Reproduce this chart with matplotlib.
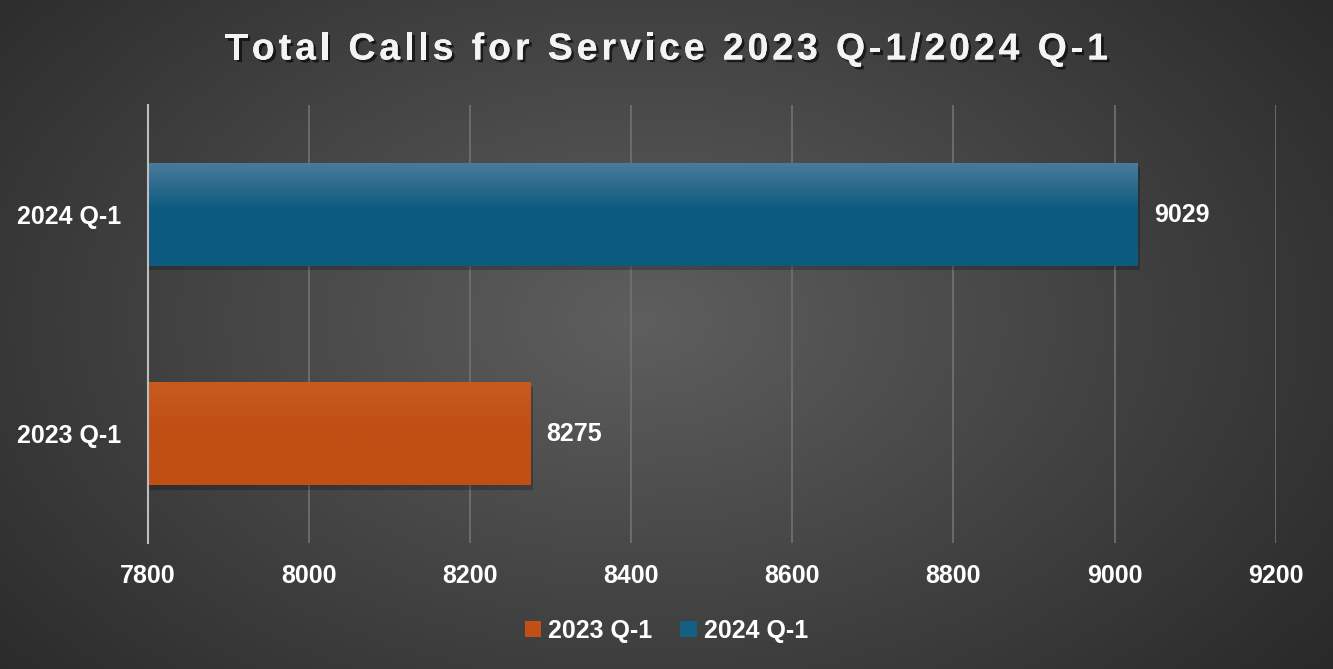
import numpy as np
import matplotlib
matplotlib.use("Agg")
import matplotlib.pyplot as plt
import matplotlib.patheffects as pe
from matplotlib.patches import Rectangle

categories = ["2023 Q-1", "2024 Q-1"]
values = [8275, 9029]
xticks = [7800, 8000, 8200, 8400, 8600, 8800, 9000, 9200]
title = "Total Calls for Service 2023 Q-1/2024 Q-1"
bar_top = ["#c85a20", "#4a7a9a"]
bar_bot = ["#c04f14", "#0c5a80"]
bar_solid = ["#c24f15", "#145f84"]

plt.rcParams['font.family'] = ['Liberation Sans', 'DejaVu Sans']
FS = 18

fig = plt.figure(figsize=(13.33, 6.69), dpi=100)

# background radial gradient
bg = fig.add_axes([0, 0, 1, 1], zorder=-10)
yy, xx = np.mgrid[0:669, 0:1333]
cx, cy = 640, 320
r = np.sqrt(((xx - cx) / 1333.0) ** 2 + ((yy - cy) / 669.0) ** 2 * 0.6)
r = r / r.max()
v = 0.37 - 0.21 * r
img = np.dstack([v, v, v])
bg.imshow(img, aspect='auto', extent=[0, 1, 0, 1], origin='upper')
bg.set_axis_off()

ax = fig.add_axes([0.111, 0.188, 0.846, 0.655])
ax.patch.set_alpha(0)

bar_h = 0.47
for i, (c, val) in enumerate(zip(categories, values)):
    sh = Rectangle((7800, i - bar_h / 2 - 0.02), val - 7800 + 3, bar_h,
                   facecolor='black', alpha=0.22, edgecolor='none', zorder=2)
    ax.add_patch(sh)
    bars = ax.barh([i], [val - 7800], left=7800, height=bar_h,
                   color=bar_solid[i], zorder=3)
    b = bars[0]
    grad = np.linspace(0, 1, 100)
    t = np.array(matplotlib.colors.to_rgb(bar_top[i]))
    bt = np.array(matplotlib.colors.to_rgb(bar_bot[i]))
    frac = np.clip(grad / 0.45, 0, 1)[:, None]
    cols = t * (1 - frac) + bt * frac
    gimg = cols[:, None, :]
    im = ax.imshow(gimg, aspect='auto', origin='upper',
                   extent=[7800, val, i - bar_h / 2, i + bar_h / 2],
                   zorder=4, interpolation='bilinear')
    im.set_clip_path(b)
    ax.text(val + 20, i, str(val), color='white', fontsize=FS, fontweight='bold',
            va='center', ha='left', zorder=5)

ax.set_xlim(7800, 9200)
ax.set_ylim(-0.5, 1.5)
ax.set_xticks(xticks)
ax.set_xticklabels([str(x) for x in xticks])
ax.set_yticks(range(len(categories)))
ax.set_yticklabels(categories)
ax.tick_params(axis='x', colors='white', labelsize=FS, length=0, pad=15)
ax.tick_params(axis='y', colors='white', labelsize=FS, length=0, pad=19)
for lab in ax.get_xticklabels() + ax.get_yticklabels():
    lab.set_fontweight('bold')
ax.grid(axis='x', color='#727272', linewidth=1.2, zorder=1)
ax.set_axisbelow(True)
for s in ['top', 'right', 'bottom']:
    ax.spines[s].set_visible(False)
ax.spines['left'].set_color('#bdbdbd')
ax.spines['left'].set_linewidth(1.5)
ax.spines['left'].set_zorder(6)

# title with letter spacing
renderer = fig.canvas.get_renderer()
tfs = 27
spacing = 3.9  # px
widths = []
for ch in title:
    tt = fig.text(0, 0, ch if ch != ' ' else 'a a', fontsize=tfs, fontweight='bold')
    w = tt.get_window_extent(renderer).width
    if ch == ' ':
        t2 = fig.text(0, 0, 'aa', fontsize=tfs, fontweight='bold')
        w = w - t2.get_window_extent(renderer).width
        t2.remove()
    tt.remove()
    widths.append(w)
total = sum(widths) + spacing * (len(title) - 1)
W = fig.get_figwidth() * fig.dpi
x = W / 2 - total / 2
for ch, w in zip(title, widths):
    if ch != ' ':
        fig.text(x / W, 0.926, ch, ha='left', va='center', color='#f4f4f4',
                 fontsize=tfs, fontweight='bold',
                 path_effects=[pe.withSimplePatchShadow(offset=(2, -2), shadow_rgbFace='black', alpha=0.6), pe.Normal()])
    x += w + spacing

handles = [Rectangle((0, 0), 1, 1, facecolor=bar_solid[0]),
           Rectangle((0, 0), 1, 1, facecolor=bar_solid[1])]
leg = fig.legend(handles, categories, loc='center', bbox_to_anchor=(0.5, 0.057), ncol=2,
                 frameon=False, handlelength=0.65, handleheight=0.65, handletextpad=0.3,
                 columnspacing=1.1, prop={'size': FS, 'weight': 'bold'})
for t in leg.get_texts():
    t.set_color('white')

fig.savefig("out.png", dpi=100)
